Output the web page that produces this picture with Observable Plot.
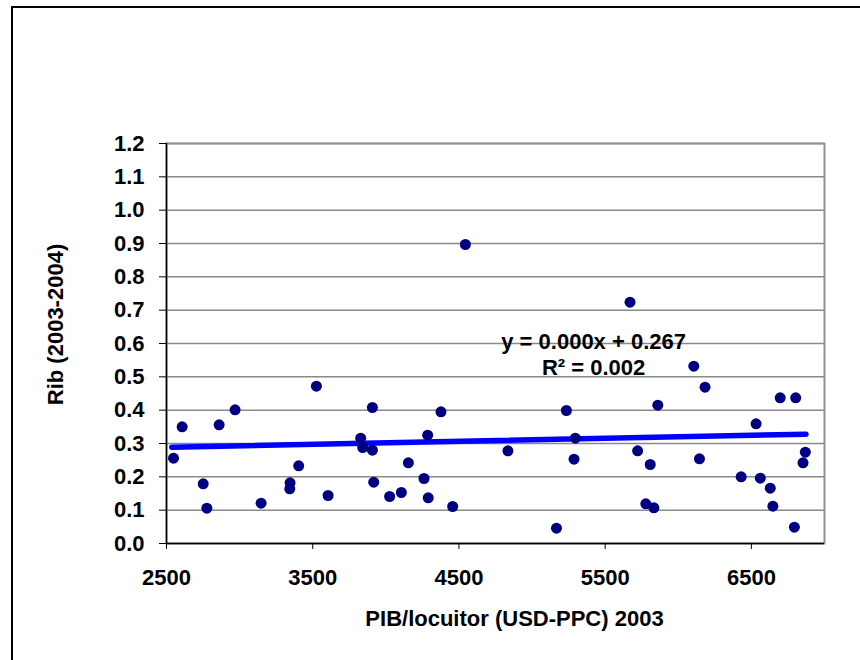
<!DOCTYPE html>
<html>
<head>
<meta charset="utf-8">
<script src="https://cdn.jsdelivr.net/npm/d3@7"></script>
<script src="https://cdn.jsdelivr.net/npm/@observablehq/plot@0.6"></script>
<style>
  html, body { margin: 0; padding: 0; background: #fff; overflow: hidden; }
  #wrap { position: relative; width: 860px; height: 660px; overflow: hidden; }
  #border { position: absolute; left: 11px; top: 6px; width: 900px; height: 700px; border-left: 2px solid #000; border-top: 2px solid #000; pointer-events: none; }
  #chart { position: absolute; left: 0; top: 0; }
</style>
</head>
<body>
<div id="wrap"><div id="chart"></div><div id="border"></div></div>
<script>
// PIB/locuitor (USD-PPC) 2003
const pib = [2548, 2607, 2751, 2776, 2860, 2969, 3147, 3345, 3343, 3404,
             3525, 3605, 3828, 3842, 3908, 3908, 3917, 4026, 4106, 4154,
             4261, 4286, 4290, 4377, 4457, 4544, 4835, 5167, 5235, 5296,
             5287, 5670, 5722, 5778, 5808, 5833, 5860, 6106, 6145, 6183,
             6430, 6532, 6561, 6629, 6647, 6697, 6803, 6794, 6869, 6853];
// Rib (2003-2004)
const rib = [0.256, 0.350, 0.179, 0.106, 0.356, 0.401, 0.121, 0.182, 0.164, 0.233,
             0.472, 0.144, 0.316, 0.288, 0.280, 0.408, 0.184, 0.141, 0.153, 0.242,
             0.195, 0.325, 0.137, 0.395, 0.111, 0.897, 0.278, 0.046, 0.399, 0.316,
             0.253, 0.724, 0.278, 0.119, 0.237, 0.107, 0.415, 0.532, 0.254, 0.469,
             0.200, 0.359, 0.196, 0.166, 0.112, 0.437, 0.437, 0.049, 0.274, 0.242];
// Linear trend line endpoints as drawn in the source chart
const trendX = [2536, 6873];
const trendY = [0.289, 0.328];
const xTicks = [2500, 3500, 4500, 5500, 6500];
const yTicks = [0, 0.1, 0.2, 0.3, 0.4, 0.5, 0.6, 0.7, 0.8, 0.9, 1.0, 1.1, 1.2];
const xLabel = "PIB/locuitor (USD-PPC) 2003";
const yLabel = "Rib (2003-2004)";
const equationLines = ["y = 0.000x + 0.267\nR² = 0.002"];

const points = pib.map((x, i) => ({x, y: rib[i]}));
const trend = trendX.map((x, i) => ({x, y: trendY[i]}));

const chart = Plot.plot({
  width: 860,
  height: 660,
  marginLeft: 166,
  marginRight: 36,
  marginTop: 143,
  marginBottom: 117,
  style: {fontFamily: "'Liberation Sans', Arial, sans-serif", fontSize: "22px", fontWeight: "bold", color: "#000", background: "transparent"},
  x: {domain: [2500, 7000], ticks: xTicks, tickFormat: d => String(d), tickSize: 6, tickPadding: 20, label: null},
  y: {domain: [0, 1.2], ticks: yTicks, tickFormat: d => d.toFixed(1), tickSize: 7, tickPadding: 15, label: null},
  marks: [
    Plot.gridY(yTicks, {stroke: "#8a8a8a", strokeOpacity: 1, strokeWidth: 1.5}),
    Plot.frame({stroke: "#909090", strokeWidth: 2}),
    Plot.axisX({ticks: xTicks, tickFormat: d => String(d), tickSize: 6, tickPadding: 20, stroke: "#000", label: null}),
    Plot.axisY({ticks: yTicks, tickFormat: d => d.toFixed(1), tickSize: 7, tickPadding: 15, stroke: "#000", label: null}),
    Plot.ruleX([2500], {stroke: "#000", strokeWidth: 1.5}),
    Plot.ruleY([0], {stroke: "#000", strokeWidth: 1.5}),
    Plot.line(trend, {x: "x", y: "y", stroke: "#0000ff", strokeWidth: 5.5, strokeLinecap: "round"}),
    Plot.dot(points, {x: "x", y: "y", r: 5.5, fill: "#000080", stroke: "none"}),
    Plot.text(equationLines, {x: 5421, y: 0.569, text: d => d, lineHeight: 1.15, textAnchor: "middle", fontSize: 22, fontWeight: "bold", fill: "#000"}),
    Plot.text([xLabel], {frameAnchor: "bottom", dx: 19, dy: 75, lineAnchor: "middle", textAnchor: "middle", text: d => d, fontSize: 22, fontWeight: "bold", fill: "#000"}),
    Plot.text([yLabel], {frameAnchor: "left", dx: -111, dy: -19, rotate: -90, textAnchor: "middle", lineAnchor: "middle", text: d => d, fontSize: 22, fontWeight: "bold", fill: "#000"})
  ]
});
document.getElementById("chart").appendChild(chart);
</script>
</body>
</html>
